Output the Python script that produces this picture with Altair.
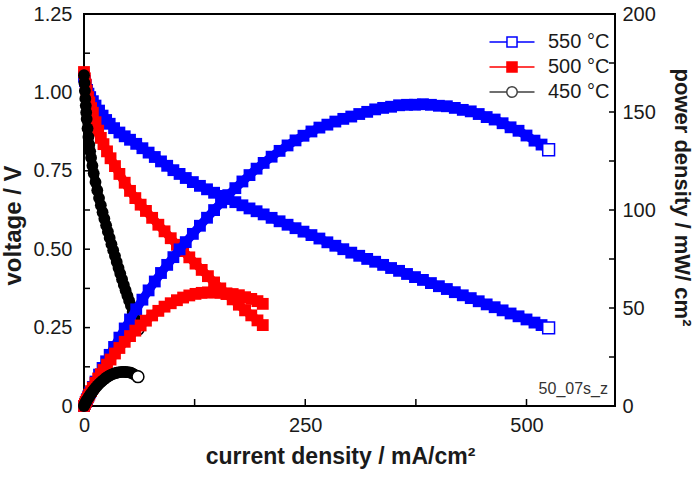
import altair as alt
import pandas as pd

# ---- series definitions -------------------------------------------------
series_names = ["550 °C", "500 °C", "450 °C"]
series_colors = ["#0000ff", "#ff0000", "#000000"]
legend_strokes = ["#0000ff", "#ff0000", "#404040"]
legend_fills = ["#ffffff", "#ff0000", "#ffffff"]

# current density (mA/cm2) and cell voltage (V) for each temperature
current_550 = [0, 1, 2, 3.5, 5, 7, 10, 13, 17, 21, 25, 29, 34, 40, 46, 52, 59, 66, 73, 80,
               87, 94, 101, 108, 115, 123, 131, 139, 147, 155, 163, 171, 179, 187, 195, 203,
               212, 221, 230, 239, 248, 257, 266, 275, 284, 293, 302, 311, 320, 329, 338, 347,
               356, 365, 374, 383, 392, 401, 410, 419, 428, 437, 446, 455, 464, 473, 482, 491,
               500, 509, 517, 525]
voltage_550 = [1.050, 1.036, 1.023, 1.008, 0.996, 0.985, 0.972, 0.958, 0.942, 0.926, 0.912,
               0.900, 0.886, 0.872, 0.860, 0.849, 0.836, 0.822, 0.808, 0.794, 0.780, 0.766,
               0.752, 0.740, 0.727, 0.714, 0.702, 0.691, 0.680, 0.670, 0.660, 0.650, 0.640,
               0.630, 0.621, 0.611, 0.600, 0.589, 0.578, 0.567, 0.556, 0.545, 0.534, 0.522,
               0.511, 0.500, 0.489, 0.479, 0.469, 0.460, 0.450, 0.440, 0.431, 0.421, 0.411,
               0.402, 0.392, 0.382, 0.373, 0.363, 0.353, 0.344, 0.334, 0.324, 0.315, 0.305,
               0.295, 0.286, 0.276, 0.266, 0.258, 0.249]

current_500 = [0, 1, 2, 3, 4.5, 6, 8, 10, 13, 16, 19, 22, 26, 30, 35, 40, 46, 52, 58, 64,
               70, 77, 84, 91, 98, 105, 112, 119, 126, 133, 140, 147, 154, 161, 168, 175,
               182, 189, 196, 202]
voltage_500 = [1.065, 1.045, 1.025, 1.005, 0.985, 0.968, 0.950, 0.935, 0.905, 0.878, 0.855,
               0.835, 0.812, 0.790, 0.765, 0.740, 0.712, 0.686, 0.663, 0.642, 0.622, 0.600,
               0.578, 0.557, 0.535, 0.514, 0.494, 0.474, 0.454, 0.434, 0.414, 0.394, 0.375,
               0.357, 0.340, 0.323, 0.305, 0.289, 0.273, 0.258]

current_450 = [0, 0.5, 1, 1.5, 2, 2.5, 3, 4, 5, 6, 7, 8, 9.5, 11, 13, 15, 17, 19, 21, 23,
               25, 27, 29, 31, 33, 35, 37, 39, 41, 43, 45, 47, 49, 51, 53, 55, 57, 59, 61]
voltage_450 = [1.055, 1.030, 1.005, 0.980, 0.958, 0.936, 0.915, 0.885, 0.858, 0.833, 0.812,
               0.792, 0.766, 0.742, 0.714, 0.688, 0.663, 0.640, 0.618, 0.597, 0.576, 0.556,
               0.536, 0.516, 0.497, 0.478, 0.459, 0.440, 0.422, 0.404, 0.386, 0.369, 0.352,
               0.336, 0.320, 0.300, 0.281, 0.263, 0.245]

# ---- axis tick positions --------------------------------------------------
x_label_values = [0, 250, 500]
x_tick_values = [125, 250, 375, 500]
volt_label_values = [0, 0.25, 0.5, 0.75, 1.0, 1.25]
volt_tick_values = [0.125, 0.25, 0.375, 0.5, 0.625, 0.75, 0.875, 1.0, 1.125]
power_label_values = [0, 50, 100, 150, 200]
power_tick_values = [25, 50, 75, 100, 125, 150, 175]

note_text = "50_07s_z"

# legend symbols: a short line with the marker in its middle
square_path = "M-3,0H-0.67M0.67,0H3M-0.67,-0.67H0.67V0.67H-0.67Z"
circle_path = "M-3,0H-0.7M0.7,0H3M0.7,0A0.7,0.7,0,1,1,-0.7,0A0.7,0.7,0,1,1,0.7,0Z"
legend_paths = [square_path, square_path, circle_path]

# ---- data table -----------------------------------------------------------
frames = []
for name, cur, vol in zip(series_names,
                          [current_550, current_500, current_450],
                          [voltage_550, voltage_500, voltage_450]):
    frames.append(pd.DataFrame({"series": name, "current": cur, "voltage": vol}))
df = pd.concat(frames, ignore_index=True)
df["power"] = df["current"] * df["voltage"]  # mW/cm2 = mA/cm2 * V

PLOT_W, PLOT_H = 531, 392
FONT = "Liberation Sans"
TXT = "#1a1a1a"
MARK_SIZE = 140

xscale = alt.Scale(domain=[0, 600], nice=False, zero=False)
vscale = alt.Scale(domain=[0, 1.25], nice=False)
pscale = alt.Scale(domain=[0, 200], nice=False)
color_scale = alt.Scale(domain=series_names, range=series_colors)
color_enc = alt.Color("series:N", scale=color_scale, legend=None)

common_axis = dict(ticks=False, domain=False, grid=False, labelFont=FONT,
                   labelFontSize=20, labelColor=TXT, labelFlush=False, labelOverlap=False,
                   titleFont=FONT, titleFontWeight="bold", titleColor=TXT,
                   titleBaseline="alphabetic", titleAlign="center")

x_axis = alt.Axis(values=x_label_values, title="current density / mA/cm²", labelPadding=9,
                  titleFontSize=23, titleX=256, titleY=57, **common_axis)
left_axis = alt.Axis(values=volt_label_values, title="voltage / V", orient="left",
                     labelExpr="datum.value == 0 ? '0' : format(datum.value, '.2f')",
                     labelPadding=12, titleFontSize=24, titleAngle=270, titleX=-64,
                     titleY=211, **common_axis)
right_axis = alt.Axis(values=power_label_values, title="power density / mW/ cm²",
                      orient="right", labelPadding=7, titleFontSize=22, titleAngle=90,
                      titleX=59, titleY=183, **common_axis)

is_circle = "datum.series == '450 °C'"
last_open = "datum.current == datum.imax && datum.series != '500 °C'"


def curve_layers(field, scale, axis, with_x_axis):
    """Thick connecting line, dense markers, and an open marker at the last point."""
    x_enc = (alt.X("current:Q", scale=xscale, axis=x_axis) if with_x_axis
             else alt.X("current:Q", scale=xscale))
    y_enc = alt.Y(f"{field}:Q", scale=scale, axis=axis)
    y_plain = alt.Y(f"{field}:Q", scale=scale)
    x_plain = alt.X("current:Q", scale=xscale)
    base = alt.Chart(df)
    line = base.mark_line(strokeWidth=9).encode(
        x=x_enc, y=y_enc, color=color_enc, detail="series:N")
    squares = base.transform_filter(f"!({is_circle})").mark_point(
        shape="square", filled=True, size=MARK_SIZE, opacity=1).encode(
        x=x_plain, y=y_plain, color=color_enc)
    circles = base.transform_filter(is_circle).mark_point(
        shape="circle", filled=True, size=MARK_SIZE, opacity=1).encode(
        x=x_plain, y=y_plain, color=color_enc)
    ends = base.transform_joinaggregate(imax="max(current)", groupby=["series"]) \
        .transform_filter(last_open)
    end_sq = ends.transform_filter(f"!({is_circle})").mark_point(
        shape="square", filled=False, fill="white", size=MARK_SIZE, strokeWidth=1.5,
        opacity=1).encode(x=x_plain, y=y_plain, color=color_enc)
    end_ci = ends.transform_filter(is_circle).mark_point(
        shape="circle", filled=False, fill="white", size=MARK_SIZE, strokeWidth=1.5,
        opacity=1).encode(x=x_plain, y=y_plain, color=color_enc)
    return [line, squares, circles, end_sq, end_ci]


# inward tick marks on the frame
rule_style = dict(color="black", strokeWidth=1.5)
volt_ticks = alt.Chart(pd.DataFrame({"v": volt_tick_values})).mark_rule(**rule_style).encode(
    y=alt.Y("v:Q", scale=vscale), x=alt.value(0), x2=alt.value(6))
x_ticks = alt.Chart(pd.DataFrame({"v": x_tick_values})).mark_rule(**rule_style).encode(
    x=alt.X("v:Q", scale=xscale), y=alt.value(PLOT_H), y2=alt.value(PLOT_H - 7))
power_ticks = alt.Chart(pd.DataFrame({"v": power_tick_values})).mark_rule(**rule_style).encode(
    y=alt.Y("v:Q", scale=pscale), x=alt.value(PLOT_W), x2=alt.value(PLOT_W - 6))

left_group = alt.layer(*curve_layers("voltage", vscale, left_axis, True), volt_ticks, x_ticks)
right_group = alt.layer(*curve_layers("power", pscale, right_axis, False), power_ticks)


# one single-entry legend per temperature, stacked in the upper right corner
def legend_entry(i):
    name = series_names[i]
    return alt.Chart(pd.DataFrame({"temperature": [name]})).mark_point(
        filled=False, fill=legend_fills[i], opacity=0).encode(
        stroke=alt.Stroke(
            "temperature:N",
            scale=alt.Scale(domain=[name], range=[legend_strokes[i]]),
            legend=alt.Legend(title=None, orient="none", legendX=418, legendY=18 + 25 * i,
                              symbolType=legend_paths[i], symbolSize=225,
                              symbolStrokeWidth=1.5, symbolOpacity=1,
                              labelFont=FONT, labelFontSize=20, labelColor=TXT,
                              labelOffset=26, padding=0, labelLimit=300)))


legend_layers = [legend_entry(i) for i in range(len(series_names))]

note_layer = alt.Chart(pd.DataFrame({"note": [note_text]})).mark_text(
    align="right", baseline="alphabetic", font=FONT, fontSize=16, color="#333333").encode(
    text="note:N", x=alt.value(524), y=alt.value(380))

chart = (alt.layer(left_group, right_group, *legend_layers, note_layer)
         .resolve_scale(y="independent", stroke="independent")
         .properties(width=PLOT_W, height=PLOT_H,
                     padding={"left": 84, "top": 14, "right": 81, "bottom": 72},
                     autosize=alt.AutoSizeParams(type="none"),
                     background="white")
         .configure_view(stroke="black", strokeWidth=2))

chart.save("out.html", embed_options={"renderer": "svg", "actions": False})
